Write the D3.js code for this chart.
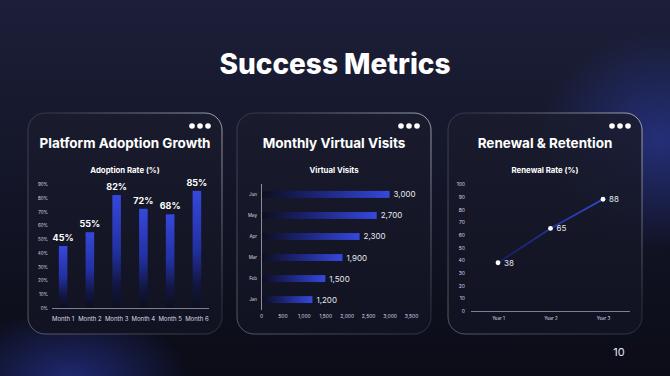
<!DOCTYPE html>
<html>
<head>
<meta charset="utf-8">
<script src="https://cdn.jsdelivr.net/npm/d3@7"></script>
<style>
  html, body { margin: 0; padding: 0; background: #0d0f1c; }
  svg { display: block; font-family: Inter, "Open Sans", sans-serif; }
</style>
</head>
<body>
<div id="chart"></div>
<script>
// data
var months = ["Month 1", "Month 2", "Month 3", "Month 4", "Month 5", "Month 6"];
var adoption = [45, 55, 82, 72, 68, 85];
var adoptionTicks = [0, 10, 20, 30, 40, 50, 60, 70, 80, 90];

var visitMonths = ["Jan", "Feb", "Mar", "Apr", "May", "Jun"];
var visits = [1200, 1500, 1900, 2300, 2700, 3000];
var visitTicks = [0, 500, 1000, 1500, 2000, 2500, 3000, 3500];

var years = ["Year 1", "Year 2", "Year 3"];
var renewal = [38, 65, 88];
var renewalTicks = [0, 10, 20, 30, 40, 50, 60, 70, 80, 90, 100];

var W = 670, H = 376;
var svg = d3.select("#chart").append("svg")
    .attr("width", W).attr("height", H);

var defs = svg.append("defs");

var bg = defs.append("linearGradient").attr("id", "bg")
    .attr("x1", 0).attr("y1", 0).attr("x2", 0).attr("y2", 1);
bg.append("stop").attr("offset", "0%").attr("stop-color", "#1c1f38");
bg.append("stop").attr("offset", "40%").attr("stop-color", "#15172b");
bg.append("stop").attr("offset", "100%").attr("stop-color", "#0b0c17");

var glow1 = defs.append("radialGradient").attr("id", "glow1");
glow1.append("stop").attr("offset", "0%").attr("stop-color", "#2d3cb0").attr("stop-opacity", 0.6);
glow1.append("stop").attr("offset", "100%").attr("stop-color", "#2d3cb0").attr("stop-opacity", 0);

var glow2 = defs.append("radialGradient").attr("id", "glow2");
glow2.append("stop").attr("offset", "0%").attr("stop-color", "#3346c4").attr("stop-opacity", 0.5);
glow2.append("stop").attr("offset", "100%").attr("stop-color", "#3346c4").attr("stop-opacity", 0);

var cardFill = defs.append("linearGradient").attr("id", "cardFill")
    .attr("x1", 0).attr("y1", 0).attr("x2", 0).attr("y2", 1);
cardFill.append("stop").attr("offset", "0%").attr("stop-color", "#1a1c2e").attr("stop-opacity", 0.85);
cardFill.append("stop").attr("offset", "100%").attr("stop-color", "#111322").attr("stop-opacity", 0.9);

var cardStroke = defs.append("linearGradient").attr("id", "cardStroke")
    .attr("x1", 1).attr("y1", 0).attr("x2", 0).attr("y2", 1);
cardStroke.append("stop").attr("offset", "0%").attr("stop-color", "#ffffff").attr("stop-opacity", 0.6);
cardStroke.append("stop").attr("offset", "45%").attr("stop-color", "#ffffff").attr("stop-opacity", 0.12);
cardStroke.append("stop").attr("offset", "100%").attr("stop-color", "#ffffff").attr("stop-opacity", 0.3);

var vBar = defs.append("linearGradient").attr("id", "vBar")
    .attr("x1", 0).attr("y1", 0).attr("x2", 0).attr("y2", 1);
vBar.append("stop").attr("offset", "0%").attr("stop-color", "#3548dc");
vBar.append("stop").attr("offset", "50%").attr("stop-color", "#2230a0");
vBar.append("stop").attr("offset", "80%").attr("stop-color", "#121640");
vBar.append("stop").attr("offset", "100%").attr("stop-color", "#0e0f1e");

var hBar = defs.append("linearGradient").attr("id", "hBar")
    .attr("x1", 0).attr("y1", 0).attr("x2", 1).attr("y2", 0);
hBar.append("stop").attr("offset", "0%").attr("stop-color", "#0e0f1e");
hBar.append("stop").attr("offset", "40%").attr("stop-color", "#1a2270");
hBar.append("stop").attr("offset", "100%").attr("stop-color", "#3548dc");

var lineGrad = defs.append("linearGradient").attr("id", "lineGrad")
    .attr("gradientUnits", "userSpaceOnUse")
    .attr("x1", 498).attr("y1", 0).attr("x2", 603).attr("y2", 0);
lineGrad.append("stop").attr("offset", "0%").attr("stop-color", "#161c60");
lineGrad.append("stop").attr("offset", "100%").attr("stop-color", "#3448d8");

svg.append("rect").attr("width", W).attr("height", H).attr("fill", "url(#bg)");
svg.append("ellipse").attr("cx", 70).attr("cy", 380).attr("rx", 120).attr("ry", 70).attr("fill", "url(#glow1)");
svg.append("ellipse").attr("cx", 660).attr("cy", 140).attr("rx", 120).attr("ry", 110).attr("fill", "url(#glow2)");

svg.append("text")
    .attr("x", W / 2).attr("y", 74)
    .attr("text-anchor", "middle")
    .attr("fill", "#ffffff")
    .attr("font-size", 28)
    .attr("font-weight", 800)
    .text("Success Metrics");

svg.append("text")
    .attr("x", 619).attr("y", 356)
    .attr("text-anchor", "middle")
    .attr("fill", "#e6e8f0")
    .attr("font-size", 11)
    .text("10");

var cardW = 194, cardTop = 113, cardH = 221;
var cardX = [28, 237, 448];
var titles = ["Platform Adoption Growth", "Monthly Virtual Visits", "Renewal & Retention"];
var subs = ["Adoption Rate (%)", "Virtual Visits", "Renewal Rate (%)"];

cardX.forEach(function(cx, i) {
  var c = svg.append("g").attr("transform", "translate(" + cx + "," + cardTop + ")");
  c.append("rect")
      .attr("width", cardW).attr("height", cardH)
      .attr("rx", 17)
      .attr("fill", "url(#cardFill)")
      .attr("stroke", "url(#cardStroke)")
      .attr("stroke-width", 1);
  [0, 1, 2].forEach(function(k) {
    c.append("circle").attr("cx", cardW - 30 + k * 8).attr("cy", 13).attr("r", 2.8).attr("fill", "#ffffff");
  });
  c.append("text")
      .attr("x", cardW / 2).attr("y", 35)
      .attr("text-anchor", "middle")
      .attr("fill", "#ffffff")
      .attr("font-size", 13.5)
      .attr("font-weight", 700)
      .text(titles[i]);
  c.append("text")
      .attr("x", cardW / 2).attr("y", 60)
      .attr("text-anchor", "middle")
      .attr("fill", "#ffffff")
      .attr("font-size", 7.8)
      .attr("font-weight", 700)
      .text(subs[i]);
});

function styleAxis(g, size) {
  g.select(".domain").remove();
  g.selectAll(".tick line").remove();
  g.selectAll(".tick text")
      .attr("fill", "#d8dae6")
      .attr("font-size", size)
      .attr("font-family", "Inter, sans-serif");
}

// chart 1 - vertical bars
var x1 = d3.scaleBand().domain(months).range([50, 210]).paddingInner(0.68).paddingOuter(0.33);
var y1 = d3.scaleLinear().domain([0, 90]).range([308, 184]);

var ax1 = svg.append("g").attr("transform", "translate(48,0)")
    .call(d3.axisLeft(y1).tickValues(adoptionTicks).tickFormat(function(d) { return d + "%"; }).tickSize(0).tickPadding(0));
styleAxis(ax1, 4.5);

svg.selectAll(".vbar").data(adoption).enter().append("rect")
    .attr("class", "vbar")
    .attr("x", function(d, i) { return x1(months[i]); })
    .attr("width", x1.bandwidth())
    .attr("y", function(d) { return y1(d); })
    .attr("height", function(d) { return y1(0) - y1(d); })
    .attr("fill", "url(#vBar)");

svg.selectAll(".vlab").data(adoption).enter().append("text")
    .attr("x", function(d, i) { return x1(months[i]) + x1.bandwidth() / 2; })
    .attr("y", function(d) { return y1(d) - 5; })
    .attr("text-anchor", "middle")
    .attr("fill", "#ffffff")
    .attr("font-size", 9)
    .attr("font-weight", 700)
    .text(function(d) { return d + "%"; });

svg.append("line").attr("x1", 52).attr("x2", 209).attr("y1", 308.5).attr("y2", 308.5)
    .attr("stroke", "#9a9cb0").attr("stroke-width", 0.8);

var bx1 = svg.append("g").attr("transform", "translate(0,312)")
    .call(d3.axisBottom(x1).tickSize(0).tickPadding(5));
styleAxis(bx1, 6);

// chart 2 - horizontal bars
var x2 = d3.scaleLinear().domain([0, 3500]).range([261, 411]);
var y2 = d3.scaleBand().domain(visitMonths.slice().reverse()).range([184, 310]).paddingInner(0.67).paddingOuter(0.33);

svg.append("line").attr("x1", 261.5).attr("x2", 261.5).attr("y1", 184).attr("y2", 310)
    .attr("stroke", "#8a8ca0").attr("stroke-width", 1);

var ax2 = svg.append("g").attr("transform", "translate(257,0)")
    .call(d3.axisLeft(y2).tickSize(0).tickPadding(0));
styleAxis(ax2, 4.5);

svg.selectAll(".hbar").data(visits).enter().append("rect")
    .attr("class", "hbar")
    .attr("x", x2(0) + 1)
    .attr("y", function(d, i) { return y2(visitMonths[i]); })
    .attr("height", y2.bandwidth())
    .attr("width", function(d) { return x2(d) - x2(0) - 1; })
    .attr("fill", "url(#hBar)");

svg.selectAll(".hlab").data(visits).enter().append("text")
    .attr("x", function(d) { return x2(d) + 4; })
    .attr("y", function(d, i) { return y2(visitMonths[i]) + y2.bandwidth() / 2 + 3; })
    .attr("fill", "#e6e8f0")
    .attr("font-size", 8)
    .text(function(d) { return d3.format(",")(d); });

var bx2 = svg.append("g").attr("transform", "translate(0,314)")
    .call(d3.axisBottom(x2).tickValues(visitTicks).tickFormat(d3.format(",")).tickSize(0).tickPadding(0));
styleAxis(bx2, 5);

// chart 3 - line
var x3 = d3.scalePoint().domain(years).range([498, 603]);
var y3 = d3.scaleLinear().domain([0, 100]).range([311, 184]);

var ax3 = svg.append("g").attr("transform", "translate(465,0)")
    .call(d3.axisLeft(y3).tickValues(renewalTicks).tickSize(0).tickPadding(0));
styleAxis(ax3, 5);

svg.append("line").attr("x1", 471).attr("x2", 630).attr("y1", 311.5).attr("y2", 311.5)
    .attr("stroke", "#9a9cb0").attr("stroke-width", 0.8);

var bx3 = svg.append("g").attr("transform", "translate(0,315)")
    .call(d3.axisBottom(x3).tickSize(0).tickPadding(2));
styleAxis(bx3, 4.5);

var line = d3.line()
    .x(function(d, i) { return x3(years[i]); })
    .y(function(d) { return y3(d); });

svg.append("path").datum(renewal)
    .attr("d", line)
    .attr("fill", "none")
    .attr("stroke", "url(#lineGrad)")
    .attr("stroke-width", 1.8);

svg.selectAll(".pt").data(renewal).enter().append("circle")
    .attr("cx", function(d, i) { return x3(years[i]); })
    .attr("cy", function(d) { return y3(d); })
    .attr("r", 2.4)
    .attr("fill", "#ffffff");

svg.selectAll(".plab").data(renewal).enter().append("text")
    .attr("x", function(d, i) { return x3(years[i]) + 6; })
    .attr("y", function(d) { return y3(d) + 3; })
    .attr("fill", "#e6e8f0")
    .attr("font-size", 8)
    .text(function(d) { return d; });
</script>
</body>
</html>
